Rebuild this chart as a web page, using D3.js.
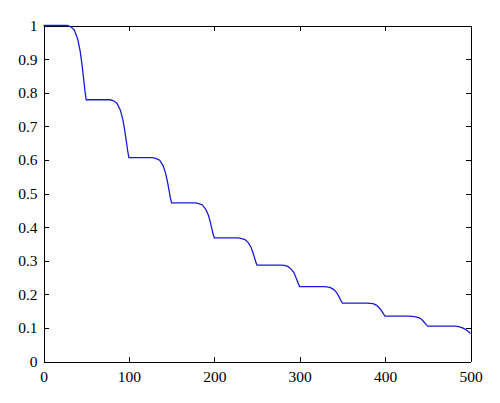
<!DOCTYPE html>
<meta charset="utf-8">
<html>
<style>
	body { margin: 0; background: #fff; }
	.axis text {
		font-family: "Liberation Serif", "DejaVu Serif", serif;
		font-size: 15.5px;
		fill: #000;
	}
	.axis path, .axis line {
		stroke: #000;
		stroke-width: 1px;
		shape-rendering: crispEdges;
	}
	.curve {
		fill: none;
		stroke: #1a1ad6;
		stroke-width: 1.3px;
	}
</style>
<body>
	<script src="https://d3js.org/d3.v7.min.js"></script>
	<script type="text/javascript">
		// tick values and labels
		var xTicks = [0, 100, 200, 300, 400, 500];
		var yTicks = [0, 0.1, 0.2, 0.3, 0.4, 0.5, 0.6, 0.7, 0.8, 0.9, 1];
		var yTickLabels = ["0", "0.1", "0.2", "0.3", "0.4", "0.5", "0.6", "0.7", "0.8", "0.9", "1"];

		// curve points (x, value)
		var curveX = [
			0, 28, 32, 36, 40, 43, 45, 47, 48.5, 50,
			78, 82, 86, 90, 93, 95, 97, 98.5, 100,
			128, 132, 136, 140, 143, 145, 147, 148.5, 150,
			178, 182, 186, 190, 193, 195, 197, 198.5, 200,
			228, 232, 236, 240, 243, 245, 247, 248.5, 250,
			278, 282, 286, 290, 293, 295, 297, 298.5, 300,
			328, 332, 336, 340, 343, 345, 347, 348.5, 350,
			378, 382, 386, 390, 393, 395, 397, 398.5, 400,
			428, 432, 436, 440, 443, 445, 447, 448.5, 450,
			478, 482, 486, 490, 493, 495, 497, 498.5, 500
		];
		var curveY = [
			1, 1, 0.996, 0.987, 0.960, 0.923, 0.885, 0.841, 0.806, 0.779,
			0.779, 0.776, 0.769, 0.748, 0.719, 0.690, 0.655, 0.628, 0.607,
			0.607, 0.604, 0.599, 0.583, 0.560, 0.537, 0.510, 0.488, 0.472,
			0.472, 0.470, 0.466, 0.453, 0.436, 0.418, 0.397, 0.380, 0.368,
			0.368, 0.366, 0.363, 0.353, 0.340, 0.326, 0.310, 0.297, 0.287,
			0.287, 0.286, 0.283, 0.275, 0.265, 0.254, 0.241, 0.231, 0.223,
			0.223, 0.222, 0.220, 0.214, 0.206, 0.198, 0.188, 0.180, 0.174,
			0.174, 0.173, 0.172, 0.167, 0.160, 0.154, 0.146, 0.140, 0.135,
			0.135, 0.134, 0.133, 0.130, 0.125, 0.119, 0.113, 0.109, 0.105,
			0.105, 0.105, 0.104, 0.101, 0.097, 0.094, 0.090, 0.087, 0.083
		];

		var width = 500, height = 403;
		var plotL = 43.5, plotR = 470.5, plotT = 25.5, plotB = 361.5;

		var svg = d3.select("body").append("svg")
			.attr("width", width)
			.attr("height", height);

		var x = d3.scaleLinear().domain([0, 500]).range([plotL, plotR]);
		var y = d3.scaleLinear().domain([0, 1]).range([plotB, plotT]);

		// bottom axis with labels, ticks pointing in
		svg.append("g")
			.attr("class", "axis")
			.attr("transform", "translate(0," + plotB + ")")
			.call(d3.axisBottom(x).tickValues(xTicks).tickSizeInner(-5).tickSizeOuter(0).tickPadding(9));

		// left axis
		svg.append("g")
			.attr("class", "axis")
			.attr("transform", "translate(" + plotL + ",0)")
			.call(d3.axisLeft(y).tickValues(yTicks).tickSizeInner(-5).tickSizeOuter(0).tickPadding(6)
				.tickFormat(function (d, i) { return yTickLabels[i]; }));

		// top and right box lines, ticks only
		svg.append("g")
			.attr("class", "axis")
			.attr("transform", "translate(0," + plotT + ")")
			.call(d3.axisTop(x).tickValues(xTicks).tickSizeInner(-5).tickSizeOuter(0).tickFormat(""));

		svg.append("g")
			.attr("class", "axis")
			.attr("transform", "translate(" + plotR + ",0)")
			.call(d3.axisRight(y).tickValues(yTicks).tickSizeInner(-5).tickSizeOuter(0).tickFormat(""));

		var pts = curveX.map(function (d, i) { return [d, curveY[i]]; });

		var line = d3.line()
			.x(function (d) { return x(d[0]); })
			.y(function (d) { return y(d[1]); });

		svg.append("path")
			.datum(pts)
			.attr("class", "curve")
			.attr("d", line);
	</script>
</body>
</html>
